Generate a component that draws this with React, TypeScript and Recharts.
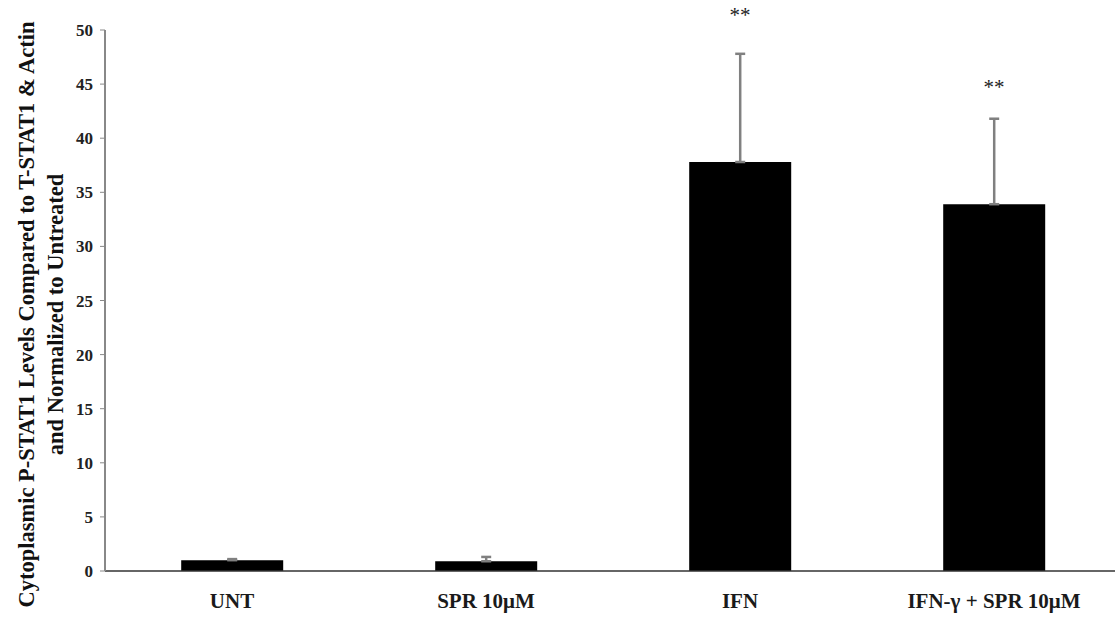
import React from "react";
import { ComposedChart, Bar, XAxis, YAxis, ErrorBar, ReferenceDot, Label } from "recharts";

const categories = ["UNT", "SPR 10μM", "IFN", "IFN-γ + SPR 10μM"];
const values = [1.0, 0.9, 37.8, 33.9];
const upperErrors = [0.1, 0.4, 10.0, 7.9];
const stars = ["", "", "**", "**"];
const starLevels = [0, 0, 51.4, 44.7];
const yTicks = [0, 5, 10, 15, 20, 25, 30, 35, 40, 45, 50];
const boundaryTicks = [1, 2, 3];
const yTitle = [
  "Cytoplasmic P-STAT1 Levels Compared to T-STAT1 & Actin",
  "and Normalized to Untreated",
];

const data = categories.map((name, i) => ({
  name,
  value: values[i],
  err: [0, upperErrors[i]],
}));

const serif = "'Liberation Serif', 'Times New Roman', serif";

const YTitle = (props: any) => {
  const vb = props.viewBox || {};
  const cy = vb.y + vb.height / 2 + 14;
  return (
    <g>
      {yTitle.map((line, i) => {
        const x = 26 + i * 29;
        return (
          <text
            key={line}
            x={x}
            y={cy}
            transform={`rotate(-90 ${x} ${cy})`}
            textAnchor="middle"
            dominantBaseline="central"
            fontFamily={serif}
            fontWeight="bold"
            fontSize={22.5}
            fill="#111"
          >
            {line}
          </text>
        );
      })}
    </g>
  );
};

const Stars = (props: any) => (
  <text
    x={props.cx}
    y={props.cy}
    textAnchor="middle"
    dominantBaseline="central"
    fontFamily={serif}
    fontSize={21}
    fill="#222"
  >
    {props.text}
  </text>
);

export default function App() {
  return (
    <div style={{ width: 1115, height: 617, overflow: "hidden", background: "#fff" }}>
      <style>{"body{margin:0;overflow:hidden}"}</style>
      <ComposedChart
        width={1121}
        height={617}
        data={data}
        margin={{ top: 30, right: 0, bottom: 0, left: 0 }}
        barCategoryGap="30%"
      >
        <XAxis
          xAxisId="bounds"
          type="number"
          domain={[0, 4]}
          ticks={boundaryTicks}
          height={0}
          axisLine={false}
          tickLine={{ stroke: "#555" }}
          tickSize={5}
          tickFormatter={() => ""}
        />
        <XAxis
          xAxisId="cat"
          dataKey="name"
          height={46}
          axisLine={{ stroke: "#333", strokeWidth: 1.5 }}
          tickLine={false}
          tickMargin={16}
          tick={{ fontFamily: serif, fontWeight: "bold", fontSize: 21, fill: "#1a1a1a" }}
          interval={0}
        />
        <YAxis
          type="number"
          domain={[0, 50]}
          ticks={yTicks}
          width={105}
          axisLine={{ stroke: "#888", strokeWidth: 2 }}
          tickLine={{ stroke: "#888" }}
          tickSize={5}
          tickMargin={7}
          tick={{ fontFamily: serif, fontWeight: "bold", fontSize: 17, fill: "#222" }}
        >
          <Label content={<YTitle />} />
        </YAxis>
        <Bar xAxisId="cat" dataKey="value" fill="#000" isAnimationActive={false}>
          <ErrorBar dataKey="err" width={5} stroke="#808080" strokeWidth={2.5} direction="y" />
        </Bar>
        {categories.map((name, i) =>
          stars[i] ? (
            <ReferenceDot
              key={name}
              xAxisId="cat"
              x={name}
              y={starLevels[i]}
              r={0}
              ifOverflow="visible"
              shape={(p: any) => <Stars {...p} text={stars[i]} />}
            />
          ) : null
        )}
      </ComposedChart>
    </div>
  );
}
